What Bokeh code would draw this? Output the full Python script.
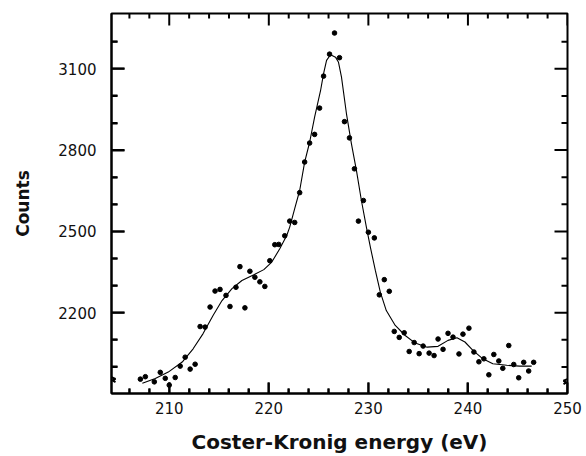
from bokeh.plotting import figure
from bokeh.models import FixedTicker, Range1d
from bokeh.embed import file_html
from bokeh.resources import INLINE

# measured data points (eV, counts)
energy = [207.1, 207.6, 208.5, 209.1, 209.6, 210.0, 210.6, 211.1, 211.6, 212.1,
          212.6, 213.1, 213.6, 214.1, 214.6, 215.1, 215.7, 216.1, 216.7, 217.1,
          217.6, 218.1, 218.6, 219.1, 219.6, 220.1, 220.6, 221.0, 221.6, 222.1,
          222.6, 223.1, 223.6, 224.1, 224.6, 225.1, 225.5, 226.1, 226.6, 227.1,
          227.6, 228.1, 228.6, 229.0, 229.5, 230.0, 230.6, 231.1, 231.6, 232.1,
          232.6, 233.1, 233.6, 234.1, 234.6, 235.1, 235.5, 236.1, 236.6, 237.0,
          237.5, 238.0, 238.5, 239.1, 239.5, 240.1, 240.6, 241.1, 241.6, 242.1,
          242.6, 243.1, 243.5, 244.1, 244.6, 245.1, 245.6, 246.1, 246.6]
counts = [1955, 1964, 1945, 1980, 1958, 1933, 1961, 2003, 2036, 1992,
          2010, 2149, 2147, 2221, 2280, 2286, 2264, 2223, 2294, 2370,
          2218, 2353, 2331, 2314, 2297, 2392, 2451, 2452, 2484, 2538,
          2533, 2643, 2756, 2826, 2858, 2955, 3073, 3154, 3232, 3141,
          2905, 2845, 2731, 2538, 2614, 2497, 2476, 2266, 2322, 2279,
          2131, 2109, 2126, 2057, 2090, 2049, 2077, 2051, 2042, 2103,
          2065, 2124, 2110, 2048, 2121, 2143, 2055, 2019, 2030, 1971,
          2046, 2022, 1995, 2079, 2009, 1960, 2017, 1985, 2017]

# fitted curve
fit_energy = [207.3, 208.6, 209.9, 211.3, 212.4, 213.4, 214.4, 215.3, 216.3, 217.3,
              218.5, 219.5, 220.3, 221.1, 221.8, 222.1, 222.6, 223.1, 223.6, 224.1,
              224.6, 225.2, 225.5, 225.8, 226.2, 226.7, 227.0, 227.3, 227.8, 228.3,
              228.8, 229.3, 229.8, 230.2, 230.7, 231.2, 231.8, 232.7, 233.7, 234.7,
              235.9, 237.0, 238.0, 238.9, 239.7, 240.5, 241.5, 242.5, 243.9, 245.2,
              246.4]
fit_counts = [1940, 1957, 1981, 2018, 2067, 2123, 2190, 2245, 2289, 2319,
              2340, 2359, 2387, 2436, 2485, 2516, 2584, 2651, 2756, 2829,
              2922, 3020, 3082, 3131, 3152, 3143, 3124, 3069, 2934, 2823,
              2725, 2614, 2516, 2442, 2356, 2276, 2208, 2153, 2116, 2088,
              2073, 2076, 2098, 2108, 2092, 2061, 2030, 2012, 2006, 2003,
              2003]

x_major = [210, 220, 230, 240, 250]
x_minor = [206, 208, 212, 214, 216, 218, 222, 224, 226, 228, 232, 234, 236, 238,
           242, 244, 246, 248]
y_major = [2200, 2500, 2800, 3100]
y_minor = [2000, 2100, 2300, 2400, 2600, 2700, 2900, 3000, 3200]

X0, X1 = 204.2, 250.0
Y0, Y1 = 1902.0, 3304.0
DX = (X1 - X0) / 456.0         # data units per px (frame 456 x 380 px)
DY = (Y1 - Y0) / 380.0

p = figure(width=586, height=456, output_backend="svg", toolbar_location=None,
           x_range=Range1d(X0, X1), y_range=Range1d(Y0, Y1),
           min_border_left=111, min_border_right=19, min_border_top=13,
           min_border_bottom=63)
p.grid.visible = False
p.outline_line_color = "black"
p.outline_line_width = 2
p.background_fill_color = "white"
p.border_fill_color = "white"

FONT = "DejaVu Sans"

xb = p.xaxis[0]
xb.ticker = FixedTicker(ticks=list(x_major), minor_ticks=list(x_minor))
xb.axis_line_width = 2
xb.major_tick_in = 11
xb.major_tick_out = 0
xb.minor_tick_in = 5
xb.minor_tick_out = 0
xb.major_tick_line_width = 2
xb.minor_tick_line_width = 2
xb.major_label_text_font = FONT
xb.major_label_text_font_size = "15px"
xb.major_label_text_color = "#111111"
xb.major_label_standoff = 8
xb.axis_label = "Coster-Kronig energy (eV)"
xb.axis_label_text_font = FONT
xb.axis_label_text_font_style = "bold"
xb.axis_label_text_font_size = "20px"
xb.axis_label_text_color = "#111111"
xb.axis_label_standoff = 13

yl = p.yaxis[0]
yl.ticker = FixedTicker(ticks=list(y_major), minor_ticks=list(y_minor))
yl.axis_line_width = 2
yl.major_tick_in = 13
yl.major_tick_out = 0
yl.minor_tick_in = 6
yl.minor_tick_out = 0
yl.major_tick_line_width = 2
yl.minor_tick_line_width = 2
yl.major_label_text_font = FONT
yl.major_label_text_font_size = "15px"
yl.major_label_text_color = "#111111"
yl.major_label_standoff = 15
yl.axis_label = "Counts"
yl.axis_label_text_font = FONT
yl.axis_label_text_font_style = "bold"
yl.axis_label_text_font_size = "17px"
yl.axis_label_text_color = "#111111"
yl.axis_label_standoff = 22

# inward tick marks on all four sides, built from the tick lists
tick_xs, tick_ys = [], []
for ticks, length in ((x_major, 11), (x_minor, 5)):
    for t in ticks:
        tick_xs.append([float(t), float(t)])
        tick_ys.append([Y0, Y0 + length * DY])
for ticks, length in ((x_major, 12), (x_minor, 5)):
    for t in ticks:
        tick_xs.append([float(t), float(t)])
        tick_ys.append([Y1, Y1 - length * DY])
for ticks, length in ((y_major, 13), (y_minor, 6)):
    for t in ticks:
        tick_xs.append([X0, X0 + length * DX])
        tick_ys.append([float(t), float(t)])
        tick_xs.append([X1, X1 - length * DX])
        tick_ys.append([float(t), float(t)])
p.multi_line(xs=tick_xs, ys=tick_ys, line_color="black", line_width=2)

# axis break marks (small kinks on the vertical axes)
p.multi_line(
    xs=[[X0, X0 + 4 * DX, X0 + 1 * DX, X0 + 4 * DX],
        [X1, X1 - 4 * DX, X1 - 1 * DX, X1 - 4 * DX]],
    ys=[[1962.0, 1956.0, 1950.0, 1944.0], [1955.0, 1949.0, 1943.0, 1937.0]],
    line_color="black", line_width=2)

# fitted curve and measured points
p.line(fit_energy, fit_counts, line_color="black", line_width=1.1)
p.scatter(energy, counts, size=4.6, marker="circle", fill_color="black",
          line_color="black")

open("out.html", "w").write(file_html(p, INLINE))
